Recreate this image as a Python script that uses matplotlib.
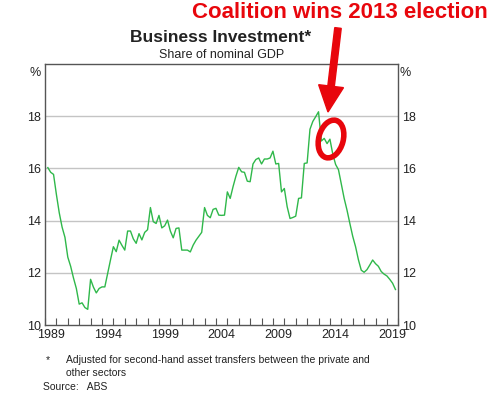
import numpy as np
import matplotlib.pyplot as plt
from matplotlib.patches import Ellipse, FancyArrow

plt.rcParams['font.family'] = ['Liberation Sans', 'DejaVu Sans']

# Business investment, share of nominal GDP (%), quarterly from 1989 Q1
start_year = 1989.25
investment = [
    16.03, 15.85, 15.77, 15.00, 14.30, 13.75, 13.36, 12.60, 12.25, 11.80,
    11.40, 10.80, 10.85, 10.67, 10.60, 11.75, 11.45, 11.23, 11.40, 11.46,
    11.46, 11.98, 12.50, 13.00, 12.81, 13.25, 13.05, 12.87, 13.60, 13.60,
    13.30, 13.13, 13.50, 13.26, 13.55, 13.65, 14.50, 13.96, 13.89, 14.20,
    13.72, 13.80, 14.02, 13.60, 13.34, 13.70, 13.72, 12.87, 12.87, 12.87,
    12.80, 13.06, 13.25, 13.40, 13.55, 14.50, 14.20, 14.11, 14.43, 14.47,
    14.21, 14.20, 14.21, 15.10, 14.85, 15.30, 15.70, 16.04, 15.87, 15.85,
    15.51, 15.49, 16.17, 16.34, 16.40, 16.17, 16.36, 16.36, 16.40, 16.66,
    16.17, 16.19, 15.10, 15.23, 14.53, 14.08, 14.12, 14.17, 14.85, 14.87,
    16.19, 16.21, 17.50, 17.80, 17.98, 18.17, 17.05, 17.15, 16.95, 17.12,
    16.55, 16.15, 15.95, 15.40, 14.85, 14.40, 13.89, 13.40, 13.00, 12.50,
    12.10, 12.02, 12.12, 12.30, 12.49, 12.35, 12.25, 12.05, 11.95, 11.88,
    11.75, 11.60, 11.36,
]
dates = start_year + 0.25 * np.arange(len(investment))

year_labels = [1989, 1994, 1999, 2004, 2009, 2014, 2019]
y_ticks = [10, 12, 14, 16, 18]

red = '#e8060c'
text_col = '#222222'

fig = plt.figure(figsize=(5.01, 3.98), dpi=100)
ax = fig.add_axes([45 / 501, 1 - 325 / 398, 353.3 / 501, 261 / 398])

ax.plot(dates, investment, color='#2fb84a', lw=1.0, zorder=3)

ax.set_xlim(1989, 2020)
ax.set_ylim(10, 20)

# gridlines
for v in y_ticks[1:]:
    ax.axhline(v, color='#c4c4c4', lw=1.0, zorder=1)

# year ticks inside, labels centred between ticks
ax.set_xticks(np.arange(1989, 2021), minor=True)
ax.set_xticks([y + 0.5 for y in year_labels])
ax.set_xticklabels([str(y) for y in year_labels], fontsize=9, color=text_col)
ax.tick_params(axis='x', which='major', length=0, pad=3)
ax.tick_params(axis='x', which='minor', direction='in', length=5, color='#555555', width=0.8)

ax.set_yticks(y_ticks)
ax.set_yticklabels([str(v) for v in y_ticks], fontsize=9, color=text_col)
ax.tick_params(axis='y', length=0, pad=3, labelleft=True, labelright=True)

for s in ax.spines.values():
    s.set_color('#555555')
    s.set_linewidth(1.0)

ax.text(-0.028, 0.965, '%', transform=ax.transAxes, ha='center', va='center',
        fontsize=9, color=text_col)
ax.text(1.02, 0.965, '%', transform=ax.transAxes, ha='center', va='center',
        fontsize=9, color=text_col)

# titles
fig.text(221 / 501, 1 - 37 / 398, 'Business Investment*', ha='center', va='center',
         fontsize=12.5, fontweight='bold', color=text_col)
fig.text(222 / 501, 1 - 55 / 398, 'Share of nominal GDP', ha='center', va='center',
         fontsize=9, color=text_col)

# annotation
fig.text(339.5 / 501, 1 - 13 / 398, 'Coalition wins 2013 election', ha='center', va='center',
         fontsize=16, fontweight='bold', color=red)
arrow = FancyArrow(3.38, 3.70, -0.10, -0.84, width=0.065, head_width=0.25,
                   head_length=0.26, length_includes_head=True, color=red,
                   transform=fig.dpi_scale_trans)
fig.patches.append(arrow)
ring = Ellipse((3.31, 3.98 - 1.39), 0.245, 0.385, angle=-15, fill=False,
               edgecolor=red, lw=4, transform=fig.dpi_scale_trans)
fig.patches.append(ring)

# footnotes
fig.text(46 / 501, 1 - 360 / 398, '*', ha='left', va='center', fontsize=7.5, color=text_col)
fig.text(66 / 501, 1 - 360 / 398,
         'Adjusted for second-hand asset transfers between the private and',
         ha='left', va='center', fontsize=7.5, color=text_col)
fig.text(66 / 501, 1 - 373 / 398, 'other sectors', ha='left', va='center',
         fontsize=7.5, color=text_col)
fig.text(43 / 501, 1 - 387 / 398, 'Source:   ABS', ha='left', va='center',
         fontsize=7.5, color=text_col)

fig.savefig('out.png', dpi=100)
